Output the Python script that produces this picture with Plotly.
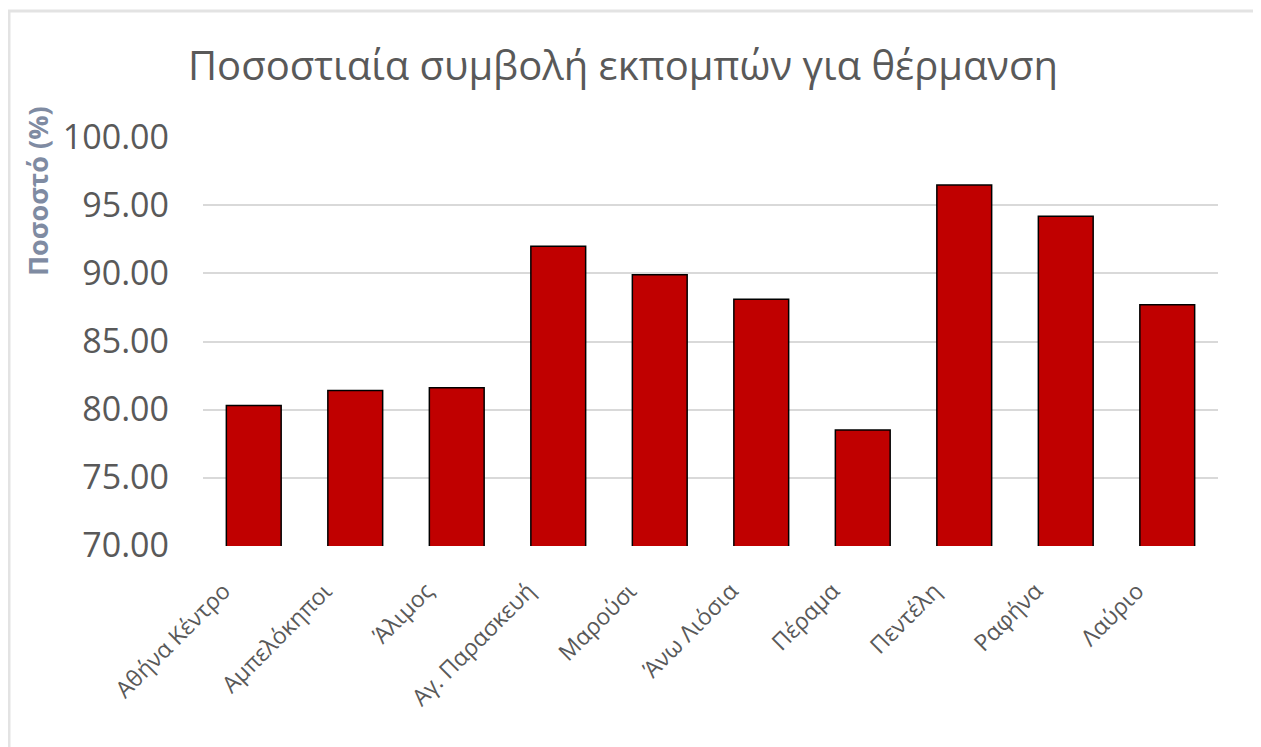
import plotly.graph_objects as go

categories = ["Αθήνα Κέντρο", "Αμπελόκηποι", "Άλιμος", "Αγ. Παρασκευή", "Μαρούσι",
              "Άνω Λιόσια", "Πέραμα", "Πεντέλη", "Ραφήνα", "Λαύριο"]
values = [80.3, 81.4, 81.6, 92.0, 89.9, 88.1, 78.5, 96.5, 94.2, 87.7]
y_ticks = [70, 75, 80, 85, 90, 95, 100]
y_tick_labels = ["70.00", "75.00", "80.00", "85.00", "90.00", "95.00", "100.00"]

OFF = 8  # default page body margin
W, H = 1261 - OFF, 747 - OFF
# target plot area in page pixels: x 203..1218, y 137..546
ml, mr = 203 - OFF, 1261 - 1218
mt, mb = 137 - OFF, 747 - 546
pw, ph = W - ml - mr, H - mt - mb

fig = go.Figure(go.Bar(
    x=categories, y=values,
    marker=dict(color="#C00000", line=dict(color="#000000", width=1.5)),
))

fig.update_layout(
    width=W, height=H,
    margin=dict(l=ml, r=mr, t=mt, b=mb),
    paper_bgcolor="white", plot_bgcolor="white",
    bargap=0.46,
    showlegend=False,
    title=dict(text="Ποσοστιαία συμβολή εκπομπών για θέρμανση",
               x=(623 - OFF) / W, xanchor="center", y=1 - (66 - OFF) / H, yanchor="middle",
               font=dict(family="Open Sans, sans-serif", size=40, color="#595959")),
    font=dict(family="Open Sans, Noto Sans, sans-serif", color="#595959"),
)
fig.update_yaxes(
    range=[69.97, 100.03], tickvals=y_ticks, ticktext=y_tick_labels,
    tickfont=dict(size=34, color="#595959"),
    showgrid=True, gridcolor="#D9D9D9", gridwidth=2,
    zeroline=False, showline=False, ticks="", ticklabelstandoff=33,
)
fig.update_xaxes(
    tickangle=-45, tickfont=dict(size=23, color="#595959"),
    showline=False, ticks="", ticklabelstandoff=26, ticklabelshift=-30,
)
fig.add_annotation(
    text="<b>Ποσοστό (%)</b>", textangle=-90,
    xref="paper", yref="paper",
    x=(37 - OFF - ml) / pw, y=1 - (191 - OFF - mt) / ph,
    xanchor="center", yanchor="middle", showarrow=False,
    font=dict(family="Open Sans, sans-serif", size=27, color="#7F8BA2"),
)
# chart frame
fig.add_shape(type="rect", xref="paper", yref="paper",
              x0=(9 - OFF - ml) / pw, x1=(1259 - OFF - ml) / pw,
              y0=1 - (770 - OFF - mt) / ph, y1=1 - (11 - OFF - mt) / ph,
              line=dict(color="#E3E3E3", width=3), layer="below")

fig.write_html("out.html")
